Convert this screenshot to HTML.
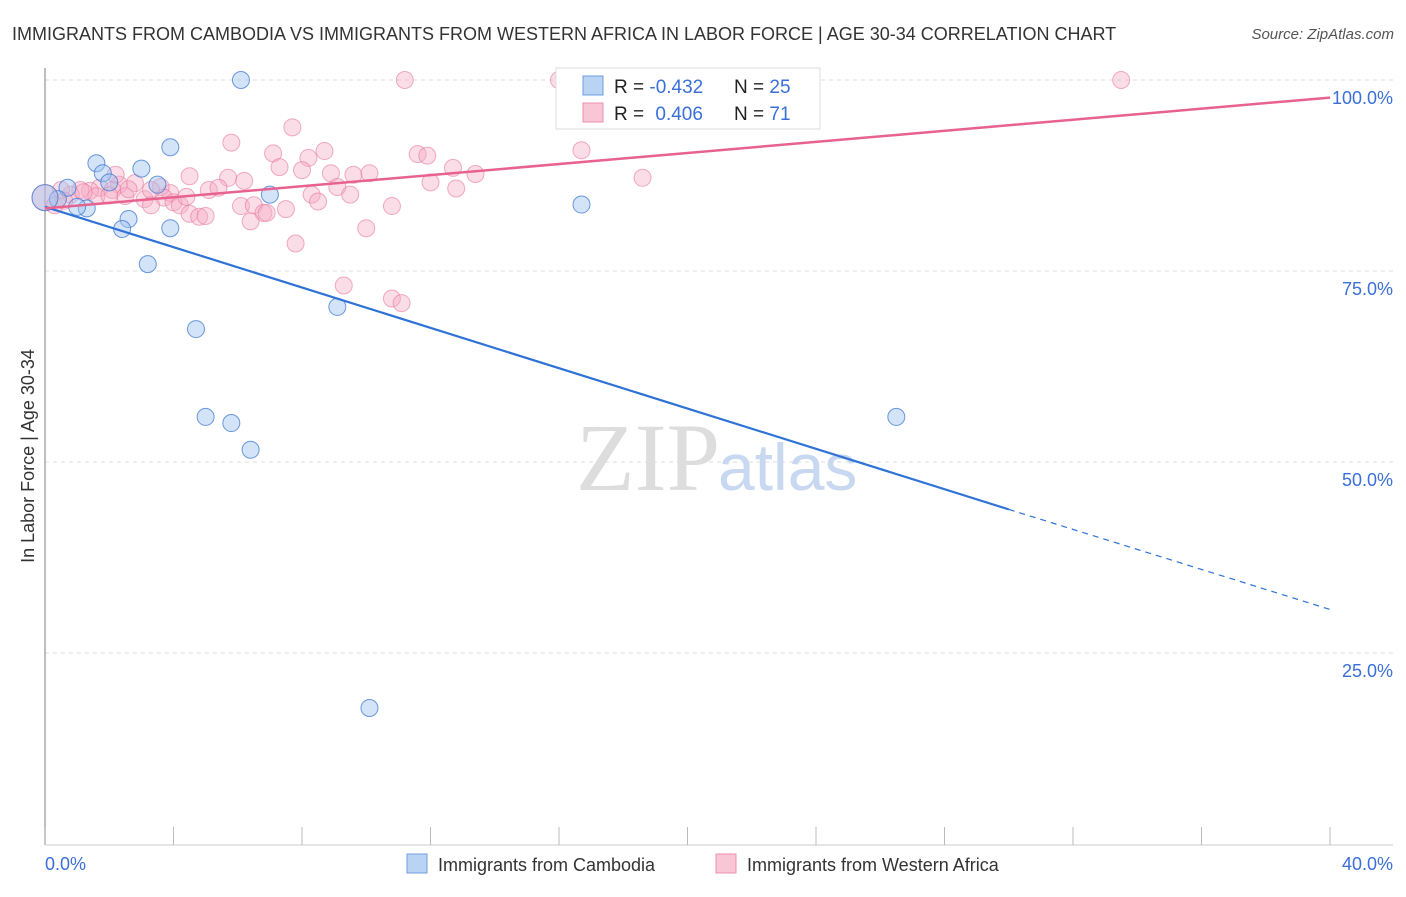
<!DOCTYPE html>
<html><head><meta charset="utf-8"><style>
body{margin:0;background:#fff;font-family:"Liberation Sans",sans-serif;}
svg text{font-family:"Liberation Sans",sans-serif;}
</style></head><body>
<svg id="chart" width="1406" height="892" viewBox="0 0 1406 892" xmlns="http://www.w3.org/2000/svg">
<text x="12" y="40" font-size="18" fill="#333">IMMIGRANTS FROM CAMBODIA VS IMMIGRANTS FROM WESTERN AFRICA IN LABOR FORCE | AGE 30-34 CORRELATION CHART</text>
<text x="1394" y="39" font-size="15" fill="#555" font-style="italic" text-anchor="end">Source: ZipAtlas.com</text>
<g id="grid"></g>
<text x="720" y="490" font-size="96" fill="#ddd" text-anchor="end" font-family="Liberation Serif" style="font-family:'Liberation Serif',serif">ZIP</text>
<text x="718" y="490" font-size="66" fill="#c8d8f0">atlas</text>
<line x1="45" y1="68" x2="45" y2="845" stroke="#aaa" stroke-width="1.5"/>
<line x1="45" y1="845" x2="1393" y2="845" stroke="#ccc" stroke-width="1"/>
<g id="xticks"></g>
<g id="ylabels"></g>
<text x="45" y="870" font-size="18" fill="#3a6fd8">0.0%</text>
<text x="1393" y="870" font-size="18" fill="#3a6fd8" text-anchor="end">40.0%</text>
<text transform="translate(34,456) rotate(-90)" font-size="18" fill="#333" text-anchor="middle">In Labor Force | Age 30-34</text>
<g id="pts"></g>
<g id="lines"></g>
<g>
<rect x="556" y="68" width="264" height="61" fill="#fff" stroke="#ddd"/>
<rect x="583" y="76" width="20" height="19" fill="#b9d3f5" stroke="#6e9ce0"/>
<rect x="583" y="103" width="20" height="19" fill="#f9c6d6" stroke="#ec8fb0"/>
<text x="614" y="93" font-size="19" fill="#222">R = <tspan fill="#3a6fd8">-0.432</tspan></text>
<text x="734" y="93" font-size="19" fill="#222">N = <tspan fill="#3a6fd8">25</tspan></text>
<text x="614" y="120" font-size="19" fill="#222">R = <tspan fill="#3a6fd8" dx="6">0.406</tspan></text>
<text x="734" y="120" font-size="19" fill="#222">N = <tspan fill="#3a6fd8">71</tspan></text>
</g>
<g>
<rect x="407" y="854" width="20" height="19" fill="#b9d3f5" stroke="#6e9ce0"/>
<text x="438" y="871" font-size="18" fill="#333">Immigrants from Cambodia</text>
<rect x="716" y="854" width="20" height="19" fill="#f9c6d6" stroke="#ec8fb0"/>
<text x="747" y="871" font-size="18" fill="#333">Immigrants from Western Africa</text>
</g>
</svg>
<script>
const yTicks=[25,50,75,100];
const xTickCount=[0,4,8,12,16,20,24,28,32,36,40];
const blueX=[6.1,3.9,1.6,3.0,1.8,2.0,3.5,0.7,7.0,0.4,1.3,1.0,16.7,2.6,2.4,3.9,3.2,4.7,9.1,5.0,5.8,6.4,26.5,10.1,0.0];
const blueY=[100,91.2,89.1,88.4,87.8,86.6,86.3,85.9,85.0,84.4,83.2,83.4,83.7,81.8,80.5,80.6,75.9,67.4,70.3,55.9,55.1,51.6,55.9,17.8,84.6];
const pinkX=[0.0,11.2,16.0,33.5,7.7,5.8,7.1,8.7,8.2,11.6,11.9,16.7,4.5,7.3,8.0,8.9,9.6,10.1,12.7,13.4,18.6,5.7,6.2,12.0,12.8,9.1,9.5,8.3,8.5,5.1,5.4,3.9,3.6,2.8,2.3,2.2,1.7,1.4,1.1,0.8,2.1,2.5,3.1,3.7,4.0,4.2,4.5,4.8,5.0,6.1,6.5,6.8,6.9,7.5,6.4,10.8,10.0,7.8,9.3,10.8,11.1,0.5,0.3,1.6,3.3,0.6,1.2,2.6,2.0,3.3,4.4];
const pinkY=[84.6,100,100,100,93.8,91.8,90.4,90.7,89.8,90.3,90.1,90.8,87.4,88.6,88.2,87.8,87.6,87.8,88.5,87.7,87.2,87.2,86.8,86.6,85.8,86.0,85.0,85.0,84.1,85.6,85.9,85.2,86.0,86.5,86.3,87.6,85.9,85.5,85.6,85.0,85.6,84.8,84.4,84.6,84.0,83.6,82.5,82.1,82.2,83.5,83.6,82.6,82.6,83.1,81.5,83.5,80.6,78.6,73.1,71.4,70.8,85.6,83.6,84.8,85.6,84.2,85.3,85.7,84.9,83.6,84.7];
const blueTrend=[[0,83.4],[30,43.8],[40,30.7]];
const pinkTrend=[[0,83.2],[40,97.7]];
const X=v=>45+v*32.125, Y=v=>844-v*7.64;
const NS="http://www.w3.org/2000/svg";
function mk(t,a,p){const e=document.createElementNS(NS,t);for(const k in a)e.setAttribute(k,a[k]);p.appendChild(e);return e;}
const grid=document.getElementById('grid');
yTicks.forEach(v=>{
 const l=mk('line',{x1:45,x2:1393,y1:Y(v),y2:Y(v),stroke:'#ddd','stroke-dasharray':'4,4'},grid);
 
 
 const t=mk('text',{x:1393,y:Y(v)+24,'font-size':18,fill:'#3a6fd8','text-anchor':'end'},document.getElementById('ylabels'));
 t.textContent=v.toFixed(1)+'%';
 
 
});
xTickCount.forEach(v=>{
 const l=mk('line',{x1:X(v),x2:X(v),y1:827,y2:845,stroke:'#bbb'},document.getElementById('xticks'));
 
 
});
const pts=document.getElementById('pts');
pinkX.forEach((x,i)=>{
 const c=mk('circle',{cx:X(x),cy:Y(pinkY[i]),r:i==0?13:8.5,fill:'rgba(246,170,195,0.4)',stroke:'rgba(232,120,160,0.6)'},pts);
 
 
});
blueX.forEach((x,i)=>{
 const c=mk('circle',{cx:X(x),cy:Y(blueY[i]),r:i==24?13:8.5,fill:'rgba(160,195,240,0.45)',stroke:'rgba(60,120,210,0.75)'},pts);
 
 
});
const lines=document.getElementById('lines');
let bl=mk('line',{x1:X(blueTrend[0][0]),y1:Y(blueTrend[0][1]),x2:X(blueTrend[1][0]),y2:Y(blueTrend[1][1]),stroke:'#2f72d6','stroke-width':2.2},lines);


let bd=mk('line',{x1:X(blueTrend[1][0]),y1:Y(blueTrend[1][1]),x2:X(blueTrend[2][0]),y2:Y(blueTrend[2][1]),stroke:'#2f72d6','stroke-width':1.2,'stroke-dasharray':'6,5'},lines);


let pl=mk('line',{x1:X(pinkTrend[0][0]),y1:Y(pinkTrend[0][1]),x2:X(pinkTrend[1][0]),y2:Y(pinkTrend[1][1]),stroke:'#e8628f','stroke-width':2.5},lines);


</script>
</body></html>
